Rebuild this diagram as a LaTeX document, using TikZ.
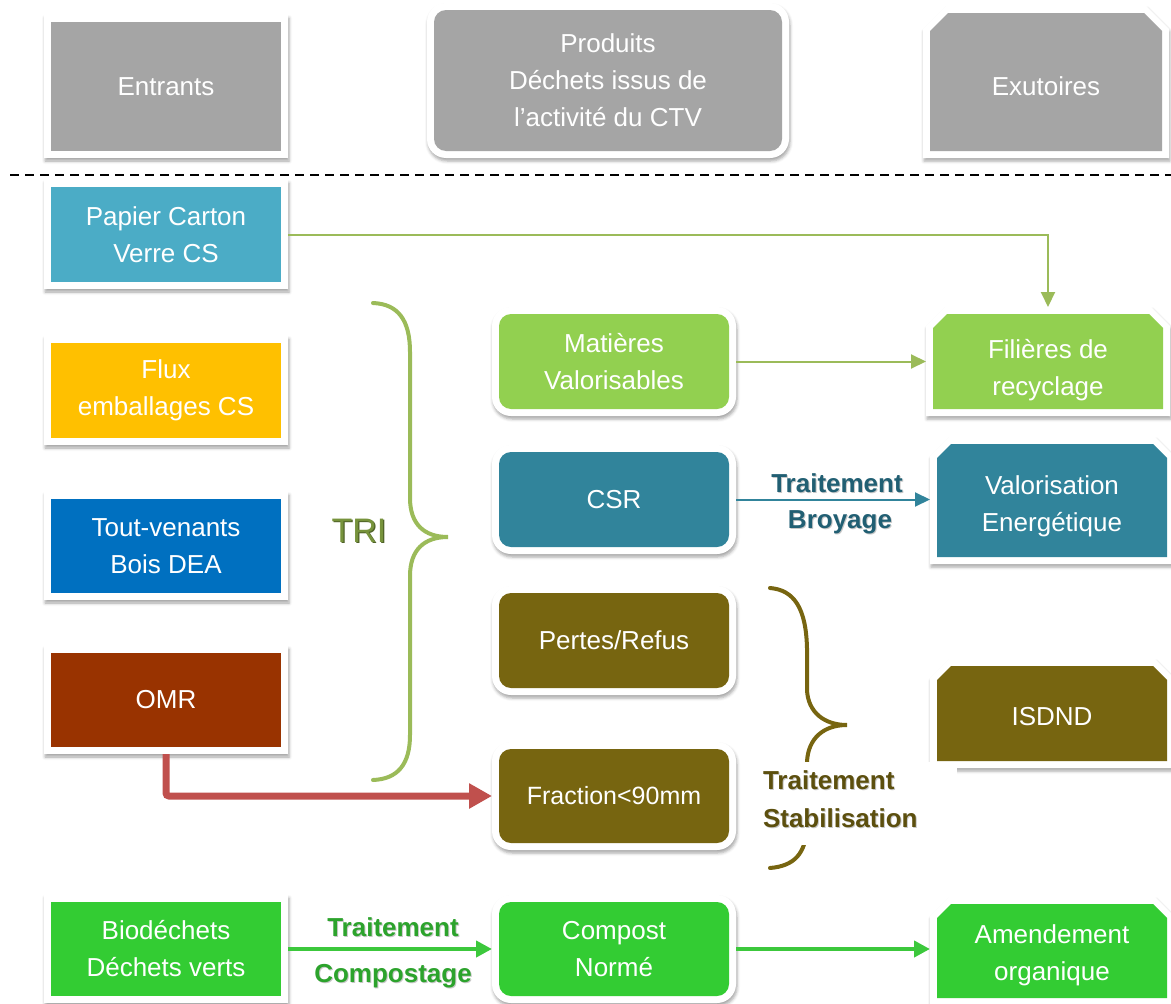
\documentclass[tikz,border=0pt]{standalone}
\usepackage{fontspec}
\setmainfont{Liberation Sans}
\usetikzlibrary{arrows.meta,shadows.blur}

\definecolor{boxgray}{HTML}{A5A5A5}
\definecolor{papblue}{HTML}{4BACC6}
\definecolor{fluxyellow}{HTML}{FFC000}
\definecolor{toutblue}{HTML}{0070C0}
\definecolor{omrbrown}{HTML}{993300}
\definecolor{biogreen}{HTML}{33CC33}
\definecolor{lightgreen}{HTML}{92D050}
\definecolor{csrteal}{HTML}{31849B}
\definecolor{olive}{HTML}{776510}
\definecolor{bracegreen}{HTML}{9BBB59}
\definecolor{arrowred}{HTML}{C0504D}
\definecolor{arrowgreen}{HTML}{3CC83C}
\definecolor{tealtext}{HTML}{215F73}
\definecolor{greentext}{HTML}{2CA32C}
\definecolor{olivetext}{HTML}{5C4F0E}
\definecolor{tritext}{HTML}{77933C}
\definecolor{trishade}{HTML}{4F6228}

\tikzset{
  frameshadow/.style={blur shadow={shadow xshift=1pt, shadow yshift=-3pt,
      shadow blur radius=3pt, shadow opacity=35}},
  frame/.style={fill=white, draw=none, inner sep=0pt, outer sep=0pt, frameshadow},
  hidden/.style={draw=none, fill=none, inner sep=0pt, outer sep=0pt},
  inbox/.style={text=white, font=\fontsize{26}{37}\selectfont, align=center,
      inner sep=0pt, outer sep=0pt},
  lab/.style={font=\bfseries\fontsize{26}{30}\selectfont, anchor=base, inner sep=0pt},
  labshade/.style={lab, text=black, opacity=0.22},
  thinlink/.style={line width=2pt, -{Triangle[length=15pt,width=14pt]}},
  midlink/.style={line width=4pt, draw=arrowgreen, -{Triangle[length=16pt,width=16pt]}},
  redlink/.style={line width=7pt, draw=arrowred, rounded corners=3pt,
      -{Triangle[length=23pt,width=24pt]}},
  bracestroke/.style={line width=4pt, line cap=round},
  sepline/.style={line width=1.5pt, dash pattern=on 9pt off 6pt},
}

% plain rectangle box: name, x, y, width, height, colour, text
\newcommand\sqbox[7]{%
  \node[frame, minimum width={#4pt+14pt}, minimum height={#5pt+14pt}] (#1-f) at (#2,#3) {};
  \node[inbox, fill=#6, minimum width={#4pt}, minimum height={#5pt}] (#1) at (#2,#3) {#7};
}
% rounded box: name, x, y, width, height, colour, text
\newcommand\rdbox[7]{%
  \node[frame, rounded corners=19pt, minimum width={#4pt+14pt}, minimum height={#5pt+14pt}] (#1-f) at (#2,#3) {};
  \node[inbox, fill=#6, rounded corners=12pt, minimum width={#4pt}, minimum height={#5pt}] (#1) at (#2,#3) {#7};
}
% box with the two top corners cut: name, x, y, width, height, colour, cut, text drop, text
\newcommand\chbox[9]{%
  \pgfmathsetmacro\cbA{#4/2+7}\pgfmathsetmacro\cbB{#5/2+7}\pgfmathsetmacro\cbC{#7+5}
  \fill[white, frameshadow] ({#2-\cbA},{#3+\cbB}) -- ({#2-\cbA},{#3-\cbB+\cbC})
     -- ({#2-\cbA+\cbC},{#3-\cbB}) -- ({#2+\cbA-\cbC},{#3-\cbB})
     -- ({#2+\cbA},{#3-\cbB+\cbC}) -- ({#2+\cbA},{#3+\cbB}) -- cycle;
  \pgfmathsetmacro\cbA{#4/2}\pgfmathsetmacro\cbB{#5/2}
  \fill[#6] ({#2-\cbA},{#3+\cbB}) -- ({#2-\cbA},{#3-\cbB+#7})
     -- ({#2-\cbA+#7},{#3-\cbB}) -- ({#2+\cbA-#7},{#3-\cbB})
     -- ({#2+\cbA},{#3-\cbB+#7}) -- ({#2+\cbA},{#3+\cbB}) -- cycle;
  \node[hidden, minimum width={#4pt+14pt}, minimum height={#5pt+14pt}] (#1-f) at (#2,#3) {};
  \node[inbox] (#1) at (#2,{#3+#8}) {#9};
}
% bold label with a soft shadow: name, x, y, colour, text
\newcommand\shlabel[5]{%
  \node[labshade] (#1-s) at ({#2+1},{#3+1.5}) {#5};
  \node[lab, text=#4] (#1) at (#2,#3) {#5};
}

\begin{document}
\begin{tikzpicture}[x=1pt, y=-1pt]
\useasboundingbox (0,0) rectangle (1171,1004);

% column headers
\sqbox{ent}{166}{86.5}{230}{129}{boxgray}{Entrants}
\rdbox{pro}{608}{80.5}{348}{141}{boxgray}{Produits\\Déchets issus de\\l’activité du CTV}
\chbox{exu}{1046}{82}{232}{138}{boxgray}{18}{4}{Exutoires}

\draw[sepline] (10,175) -- (1171,175);

% incoming flows
\sqbox{pap}{166}{234.5}{230}{95}{papblue}{Papier Carton\\Verre CS}
\sqbox{flu}{166}{390.5}{230}{95}{fluxyellow}{Flux\\emballages CS}
\sqbox{tou}{166}{546}{230}{94}{toutblue}{Tout-venants\\Bois DEA}
\sqbox{omr}{166}{700}{230}{94}{omrbrown}{OMR}
\sqbox{bio}{166}{949}{230}{94}{biogreen}{Biodéchets\\Déchets verts}

% products of the site
\rdbox{mat}{614}{361.5}{230}{95}{lightgreen}{Matières\\Valorisables}
\rdbox{csr}{614}{499.5}{230}{95}{csrteal}{CSR}
\rdbox{per}{614}{640.5}{230}{95}{olive}{Pertes/Refus}
\rdbox{fra}{614}{796}{230}{94}{olive}{\fontsize{25}{37}\selectfont Fraction<90mm}
\rdbox{com}{614}{949}{230}{94}{biogreen}{Compost\\Normé}

% outlets
\chbox{fil}{1048}{361.5}{230}{95}{lightgreen}{14}{8.5}{Filières de\\recyclage}
\chbox{val}{1052}{500.5}{230}{113}{csrteal}{14}{5.5}{Valorisation\\Energétique}
\chbox{isd}{1052}{713.5}{230}{95}{olive}{14}{3}{ISDND}
\chbox{ame}{1052}{951}{230}{94}{biogreen}{14}{4}{Amendement\\organique}

% sorting brace
\draw[bracestroke, bracegreen] (373,303) .. controls (398,304) and (410,320) .. (410,352)
  -- (410,498) .. controls (410,524) and (424,537) .. (448,537)
  .. controls (424,537) and (410,550) .. (410,576)
  -- (410,735) .. controls (410,764) and (398,779) .. (373,780);
\node[font=\fontsize{34}{34}\selectfont, text=trishade, anchor=base, inner sep=0pt] (tri-s) at (360.2,543.3) {TRI};
\node[font=\fontsize{34}{34}\selectfont, text=tritext, anchor=base, inner sep=0pt] (tri) at (359,542) {TRI};

% stabilisation brace
\draw[bracestroke, olive] (770,588) .. controls (794,590) and (806,608) .. (807,648)
  -- (807,690) .. controls (808,712) and (824,725) .. (847,725)
  .. controls (824,725) and (808,738) .. (807,762)
  -- (807,826) .. controls (806,854) and (794,866) .. (770,868);
\fill[white] (760,762) rectangle (957,845);
\shlabel{ts1}{763}{789}{olivetext}{\hbox to 0pt{Traitement\hss}}
\shlabel{ts2}{763}{827}{olivetext}{\hbox to 0pt{Stabilisation\hss}}

% connectors
\draw[thinlink, draw=bracegreen] (pap-f.east) -| (fil-f.north);
\draw[thinlink, draw=bracegreen] (mat-f.east) -- (fil-f.west);
\draw[thinlink, draw=csrteal] (csr-f.east) -- (csr-f.east -| val-f.west);
\draw[redlink] (omr-f.south) -- (omr-f.south |- fra-f.west) -- (fra-f.west);
\draw[midlink] (bio-f.east) -- (com-f.west);
\draw[midlink] (com-f.east) -- (com-f.east -| ame-f.west);

% treatment labels
\shlabel{tb1}{837}{492}{tealtext}{Traitement}
\shlabel{tb2}{840}{528}{tealtext}{Broyage}
\shlabel{tc1}{393}{936}{greentext}{Traitement}
\shlabel{tc2}{393}{982}{greentext}{Compostage}
\end{tikzpicture}
\end{document}
